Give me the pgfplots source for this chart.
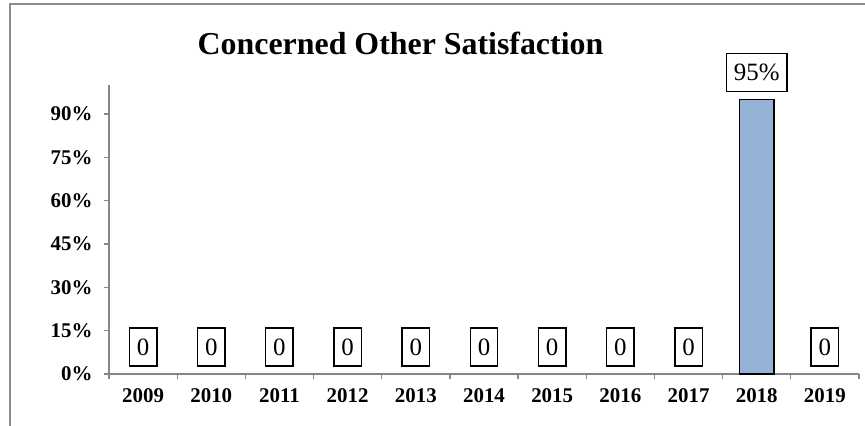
\documentclass[border=0pt]{standalone}
\usepackage{fontspec}
\setmainfont{Liberation Serif}
\usepackage{pgfplots}
\pgfplotsset{compat=1.18}
\definecolor{barblue}{HTML}{95B3D7}
\definecolor{axgrey}{HTML}{868686}
\definecolor{framegrey}{HTML}{8C8C8C}
\begin{document}
\begin{tikzpicture}
\path[use as bounding box] (0,0) rectangle (865bp,426bp);
\draw[framegrey, line width=2bp] (10bp,0bp) -- (10bp,422bp) -- (865bp,422bp);
\begin{axis}[
  at={(109bp,52bp)}, anchor=south west,
  scale only axis, width=750bp, height=289bp,
  xmin=-0.5, xmax=10.5, ymin=0, ymax=1,
  axis x line*=bottom, axis y line*=left,
  axis line style={axgrey, line width=1.3bp, -},
  xtick={-0.5,0.5,...,10.5},
  x tick label as interval,
  xticklabels={2009,2010,2011,2012,2013,2014,2015,2016,2017,2018,2019},
  ytick={0,0.15,0.3,0.45,0.6,0.75,0.9},
  yticklabels={0\%,15\%,30\%,45\%,60\%,75\%,90\%},
  tick align=outside,
  major tick length=5bp,
  tick style={axgrey, line width=1.3bp},
  xticklabel style={font=\fontsize{21}{24}\selectfont\bfseries, yshift=-6bp},
  yticklabel style={font=\fontsize{21}{24}\selectfont\bfseries, xshift=-8bp},
  clip=false,
]
\addplot[ybar, bar width=0.5, bar shift=0pt, fill=barblue, draw=black, line width=1.5bp]
  coordinates {(9,0.95)};
\addplot[draw=none, mark=none, nodes near coords, point meta=explicit symbolic,
  every node near coord/.style={draw=black, line width=1.5bp, fill=white,
    font=\fontsize{25}{28}\selectfont, inner xsep=7.5bp, inner ysep=0pt,
    minimum height=38bp, anchor=south, yshift=7bp}]
  coordinates {(0,0)[0] (1,0)[0] (2,0)[0] (3,0)[0] (4,0)[0] (5,0)[0]
               (6,0)[0] (7,0)[0] (8,0)[0] (9,0.95)[95\%] (10,0)[0]};
\end{axis}
\node[anchor=base, font=\fontsize{32}{36}\selectfont\bfseries] at (400.5bp,371bp) {Concerned Other Satisfaction};
\end{tikzpicture}
\end{document}
